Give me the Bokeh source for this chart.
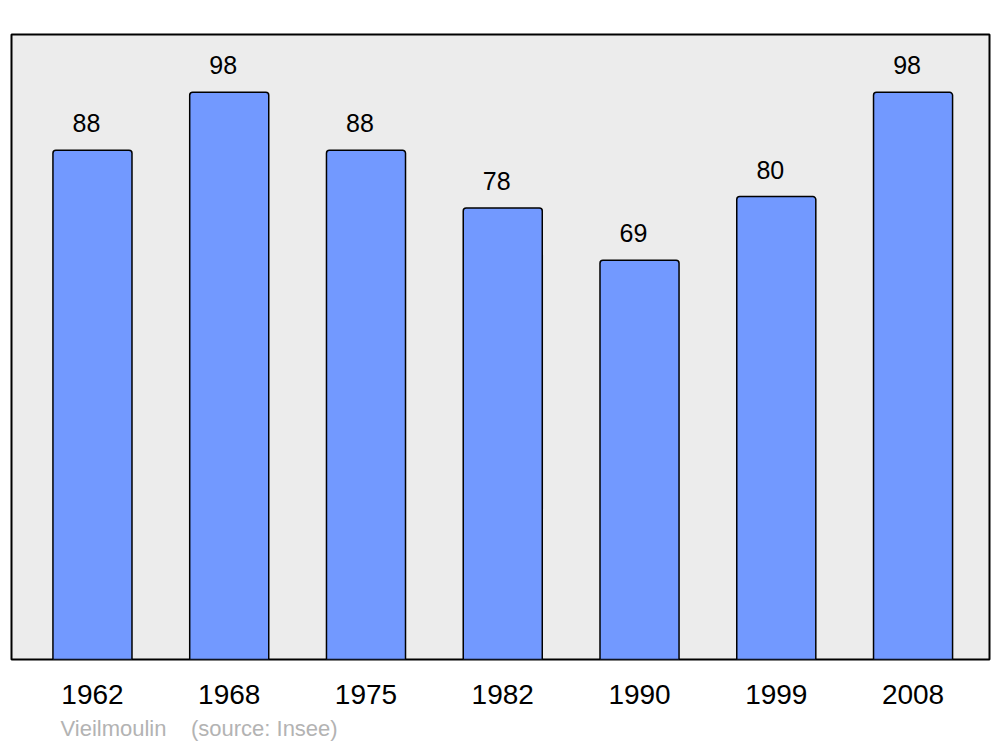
from bokeh.plotting import figure
from bokeh.models import FixedTicker, Range1d, Title, ColumnDataSource
from bokeh.core.properties import value
from bokeh.embed import file_html
from bokeh.resources import INLINE

years = ["1962", "1968", "1975", "1982", "1990", "1999", "2008"]
population = [88, 98, 88, 78, 69, 80, 98]
caption = "Vieilmoulin\u00a0\u00a0\u00a0\u00a0(source: Insee)"

xs = list(range(len(years)))
src = ColumnDataSource(dict(x=xs, top=population, label=[str(v) for v in population]))

FONT = "Liberation Sans"

p = figure(width=1000, height=747, output_backend="svg", toolbar_location=None,
           x_range=Range1d(-0.592, 6.559), y_range=Range1d(0, 108),
           min_border_left=11, min_border_right=11, min_border_top=34, min_border_bottom=87)
p.background_fill_color = "#ececec"
p.border_fill_color = "white"
p.outline_line_color = "black"
p.outline_line_width = 2
p.grid.visible = False
p.yaxis.visible = False

p.vbar(x="x", top="top", bottom=0, width=0.578, source=src, fill_color="#7299ff",
       line_color="black", line_width=1.5, border_radius=(3, 3, 0, 0))

p.text(x="x", y="top", text="label", source=src, x_offset=-6, y_offset=-27,
       text_align="center", text_baseline="alphabetic", text_font=value(FONT),
       text_font_size="25px", text_color="black")

xa = p.xaxis[0]
xa.ticker = FixedTicker(ticks=xs)
xa.major_label_overrides = {i: y for i, y in enumerate(years)}
xa.axis_line_color = None
xa.major_tick_line_color = None
xa.minor_tick_line_color = None
xa.major_label_standoff = 19
xa.major_label_text_font = FONT
xa.major_label_text_font_size = "28px"
xa.major_label_text_color = "black"

t = Title(text=caption, align="left", offset=49, text_font=FONT, text_font_size="22px",
          text_color="#b3b3b3", text_font_style="normal", standoff=14)
p.add_layout(t, "below")

open("out.html", "w").write(file_html(p, INLINE))
